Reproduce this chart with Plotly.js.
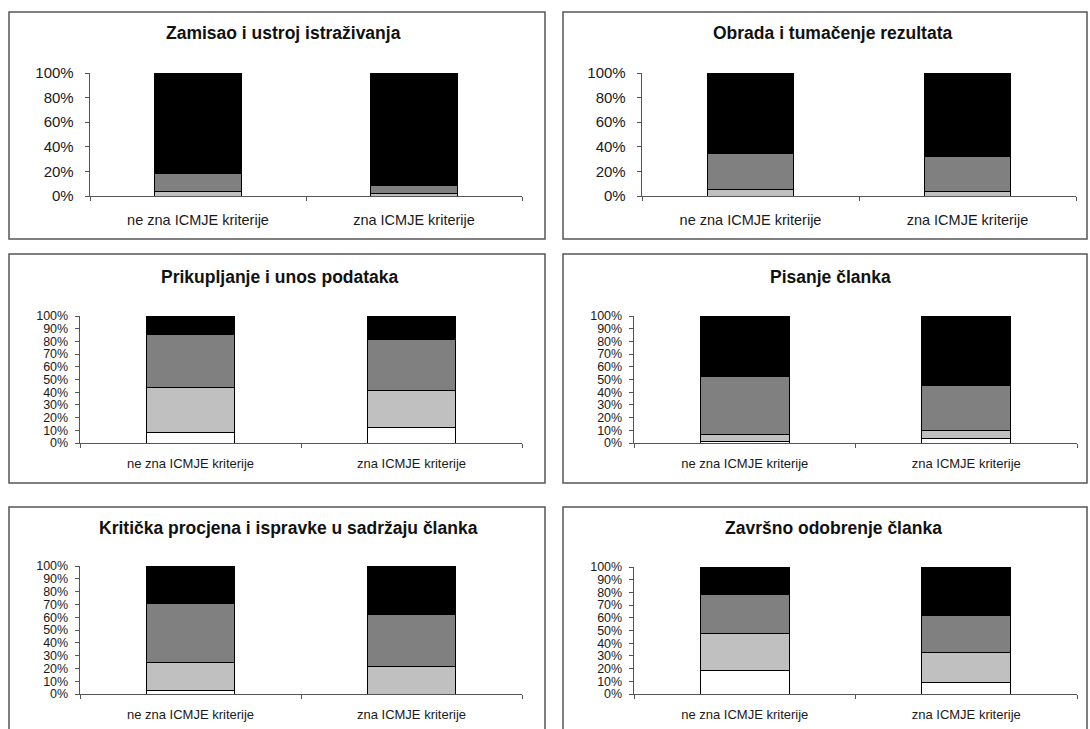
<!DOCTYPE html>
<html>
<head>
<meta charset="utf-8">
<script src="https://cdn.plot.ly/plotly-3.0.1.min.js"></script>
<style>html,body{margin:0;padding:0;background:#fff;}#chart{width:1090px;height:729px;}</style>
</head>
<body>
<div id="chart"></div>
<script>
// ---- data ----
const categories = ["ne zna ICMJE kriterije", "zna ICMJE kriterije"];
const panelTitles = [
  "Zamisao i ustroj istraživanja",
  "Obrada i tumačenje rezultata",
  "Prikupljanje i unos podataka",
  "Pisanje članka",
  "Kritička procjena i ispravke u sadržaju članka",
  "Završno odobrenje članka"
];
// one pair [ne zna, zna] per panel, in panel order
const whiteVals = [[0, 0], [0, 0], [7.9, 12.3], [1.5, 3.7], [3, 0], [18.6, 8.9]];
const lightVals = [[4, 2], [5.5, 4], [36, 29], [5, 6], [21.5, 21.4], [29, 23.6]];
const midVals   = [[14, 6.5], [29, 28], [41.7, 40.3], [45.5, 35.3], [46.5, 41.1], [30.9, 29.5]];
const blackVals = [[82, 91.5], [65.5, 68], [14.4, 18.4], [48, 55], [29, 37.5], [21.5, 38]];
const yTickStep = [20, 20, 10, 10, 10, 10];

// ---- layout geometry (pixels) ----
const W = 1090, H = 729;
const boxes = [
  {x0: 9, x1: 545, y0: 12, y1: 239},
  {x0: 563, x1: 1087, y0: 12, y1: 239},
  {x0: 9, x1: 545, y0: 254, y1: 483},
  {x0: 563, x1: 1087, y0: 254, y1: 483},
  {x0: 9, x1: 545, y0: 507, y1: 740},
  {x0: 563, x1: 1087, y0: 507, y1: 740}
];
const plots = [
  {x0: 90, x1: 522, y0: 73, y1: 196},
  {x0: 642, x1: 1076, y0: 73, y1: 196},
  {x0: 80, x1: 522, y0: 316, y1: 443},
  {x0: 634, x1: 1077, y0: 316, y1: 443},
  {x0: 80, x1: 522, y0: 566, y1: 694},
  {x0: 634, x1: 1077, y0: 567, y1: 694}
];
const titlePos = [
  {x: 283, y: 33}, {x: 833, y: 33},
  {x: 280, y: 277}, {x: 830, y: 277},
  {x: 288, y: 528}, {x: 833, y: 528}
];
const px = v => v / W;
const py = v => 1 - v / H;

const fills = ["#ffffff", "#c0c0c0", "#808080", "#000000"];
const series = [whiteVals, lightVals, midVals, blackVals];

const traces = [];
const layout = {
  width: W, height: H,
  margin: {l: 0, r: 0, t: 0, b: 0},
  paper_bgcolor: "#ffffff", plot_bgcolor: "#ffffff",
  barmode: "stack", bargap: 0.6,
  showlegend: false,
  font: {family: "Liberation Sans, Arial, sans-serif", color: "#1a1a1a"},
  shapes: [], annotations: []
};

for (let p = 0; p < 6; p++) {
  const sfx = p === 0 ? "" : String(p + 1);
  const xa = "x" + sfx, ya = "y" + sfx;
  series.forEach((s, k) => {
    traces.push({
      type: "bar", x: categories, y: s[p], xaxis: xa, yaxis: ya,
      marker: {color: fills[k], line: {color: "#000000", width: 1}},
      hoverinfo: "skip"
    });
  });
  const big = p < 2;
  const pl = plots[p];
  layout["xaxis" + sfx] = {
    domain: [px(pl.x0), px(pl.x1)], anchor: ya,
    showline: true, linecolor: "#555555", linewidth: 1.3,
    ticks: "outside", tickson: "boundaries", ticklen: 4, tickcolor: "#555555",
    showgrid: false, zeroline: false, fixedrange: true,
    tickfont: {size: big ? 14.5 : 13, color: "#1a1a1a"},
    ticklabelstandoff: big ? 10 : 8
  };
  layout["yaxis" + sfx] = {
    domain: [py(pl.y1), py(pl.y0)], anchor: xa,
    range: [0, 100], dtick: yTickStep[p], tick0: 0, ticksuffix: "%",
    showline: true, linecolor: "#555555", linewidth: 1.3,
    ticks: "outside", ticklen: 4, tickcolor: "#555555",
    showgrid: false, zeroline: false, fixedrange: true,
    tickfont: {size: big ? 15 : 12.5, color: "#1a1a1a"},
    ticklabelstandoff: big ? 8 : 4
  };
  const b = boxes[p];
  layout.shapes.push({
    type: "rect", xref: "paper", yref: "paper",
    x0: px(b.x0), x1: px(b.x1), y0: py(b.y1), y1: py(b.y0),
    line: {color: "#555555", width: 1.5}, fillcolor: "rgba(0,0,0,0)", layer: "below"
  });
  layout.annotations.push({
    xref: "paper", yref: "paper", x: px(titlePos[p].x), y: py(titlePos[p].y),
    xanchor: "center", yanchor: "middle", showarrow: false,
    text: "<b>" + panelTitles[p] + "</b>",
    font: {size: 17.5, color: "#111111", family: "Liberation Sans, Arial, sans-serif"}
  });
}

Plotly.newPlot("chart", traces, layout, {staticPlot: true, displayModeBar: false});
</script>
</body>
</html>
